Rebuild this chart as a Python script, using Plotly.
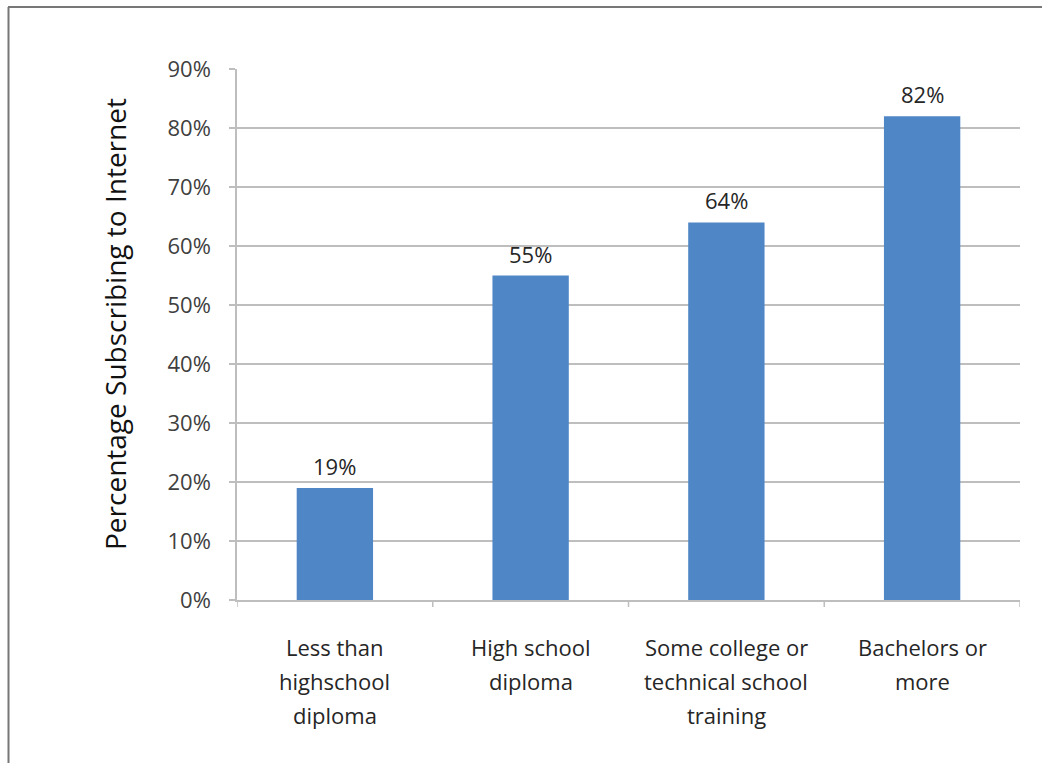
import plotly.graph_objects as go

# Internet subscription rate by educational attainment
categories = [
    "Less than<br>highschool<br>diploma",
    "High school<br>diploma",
    "Some college or<br>technical school<br>training",
    "Bachelors or<br>more",
]
values = [19, 55, 64, 82]
y_ticks = [0, 10, 20, 30, 40, 50, 60, 70, 80, 90]
y_tick_labels = [f"{v}%" for v in y_ticks]

FONT = "Open Sans"
BAR_COLOR = "#4F86C6"
GRID = "#BEBEBE"
LABEL_SIZE = 22

W, H = 1042, 763
L, R, T, B = 237, 22, 69, 163
pw, ph = W - L - R, H - T - B


def px_x(px):
    return (px - L) / pw


def px_y(py):
    return (H - B - py) / ph


x_pos = list(range(len(categories)))

fig = go.Figure()
fig.add_trace(go.Bar(
    x=x_pos,
    y=values,
    marker=dict(color=BAR_COLOR, line=dict(width=0)),
    width=0.39,
    hoverinfo="skip",
))

annotations = []
# value labels above each bar
for xi, v in zip(x_pos, values):
    annotations.append(dict(
        x=xi, y=v, xref="x", yref="y", text=f"{v}%", showarrow=False,
        yanchor="bottom", yshift=5,
        font=dict(family=FONT, size=LABEL_SIZE, color="#262626"),
    ))

# category labels, one line at a time for wider line spacing
for xi, label in zip(x_pos, categories):
    for j, line in enumerate(label.split("<br>")):
        annotations.append(dict(
            x=xi, y=px_y(647 + 34 * j), xref="x", yref="paper",
            text=line, showarrow=False, yanchor="middle",
            font=dict(family=FONT, size=LABEL_SIZE, color="#262626"),
        ))

# axis title
annotations.append(dict(
    x=px_x(115), y=px_y(324), xref="paper", yref="paper",
    text="Percentage Subscribing to Internet", textangle=-90,
    showarrow=False, xanchor="center", yanchor="middle",
    font=dict(family=FONT, size=28, color="#111111"),
))

# tick marks between categories on the x axis
shapes = []
for k in range(len(categories) + 1):
    xb = k - 0.5
    shapes.append(dict(
        type="line", xref="x", yref="paper", x0=xb, x1=xb,
        y0=0, y1=px_y(607), line=dict(color=GRID, width=1.5),
    ))

# frame lines (left and top)
shapes.append(dict(type="line", xref="paper", yref="paper",
                   x0=px_x(8.5), x1=px_x(8.5), y0=px_y(7), y1=px_y(763),
                   line=dict(color="#777777", width=2)))
shapes.append(dict(type="line", xref="paper", yref="paper",
                   x0=px_x(8), x1=px_x(1042), y0=px_y(7), y1=px_y(7),
                   line=dict(color="#777777", width=2)))

fig.update_layout(
    width=W, height=H,
    margin=dict(l=L, r=R, t=T, b=B, pad=0),
    paper_bgcolor="white",
    plot_bgcolor="white",
    showlegend=False,
    bargap=0.61,
    annotations=annotations,
    shapes=shapes,
    xaxis=dict(
        range=[-0.5, len(categories) - 0.5],
        showticklabels=False,
        showgrid=False,
        zeroline=False,
        showline=True, linecolor=GRID, linewidth=1.5,
        ticks="",
        fixedrange=True,
    ),
    yaxis=dict(
        range=[0, 90],
        tickvals=y_ticks,
        ticktext=y_tick_labels,
        tickfont=dict(family=FONT, size=LABEL_SIZE, color="#404040"),
        showgrid=True, gridcolor=GRID, gridwidth=1.5,
        zeroline=False,
        showline=True, linecolor=GRID, linewidth=1.5,
        ticks="outside", ticklen=6, tickcolor=GRID, tickwidth=1.5,
        ticklabelstandoff=14,
        fixedrange=True,
    ),
)

fig.write_html("out.html", config={"displayModeBar": False})
